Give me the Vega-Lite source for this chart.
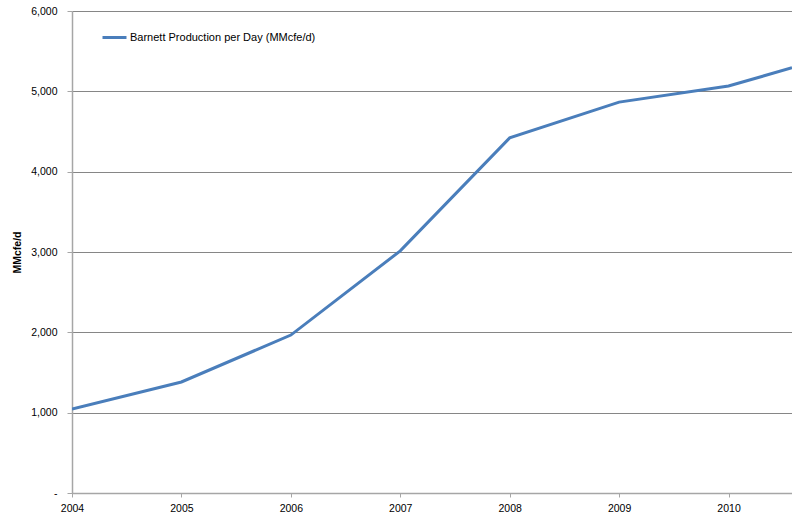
{
  "$schema": "https://vega.github.io/schema/vega-lite/v6.json",
  "autosize": "none",
  "width": 720,
  "height": 482,
  "padding": {"left": 72, "top": 11, "right": 0, "bottom": 23},
  "background": "white",
  "config": {
    "view": {"stroke": null},
    "font": "Liberation Sans"
  },
  "data": {
    "values": [
      {"year": 2004, "value": 1046, "series": "Barnett Production per Day (MMcfe/d)"},
      {"year": 2005, "value": 1382, "series": "Barnett Production per Day (MMcfe/d)"},
      {"year": 2006, "value": 1966, "series": "Barnett Production per Day (MMcfe/d)"},
      {"year": 2007, "value": 3014, "series": "Barnett Production per Day (MMcfe/d)"},
      {"year": 2008, "value": 4421, "series": "Barnett Production per Day (MMcfe/d)"},
      {"year": 2009, "value": 4866, "series": "Barnett Production per Day (MMcfe/d)"},
      {"year": 2010, "value": 5066, "series": "Barnett Production per Day (MMcfe/d)"},
      {"year": 2010.58, "value": 5293, "series": "Barnett Production per Day (MMcfe/d)"}
    ]
  },
  "mark": {"type": "line", "strokeWidth": 3, "clip": true},
  "encoding": {
    "x": {
      "field": "year",
      "type": "quantitative",
      "scale": {"domain": [2004, 2010.58], "nice": false, "zero": false},
      "axis": {
        "values": [2004, 2005, 2006, 2007, 2008, 2009, 2010],
        "format": "d",
        "title": null,
        "grid": false,
        "labelFlush": false,
        "labelOverlap": false,
        "domainColor": "#a6a6a6",
        "domainWidth": 1.5,
        "tickColor": "#a6a6a6",
        "tickSize": 4,
        "labelPadding": 6,
        "labelFontSize": 10.5,
        "labelColor": "#000000"
      }
    },
    "y": {
      "field": "value",
      "type": "quantitative",
      "scale": {"domain": [0, 6000], "nice": false},
      "axis": {
        "values": [0, 1000, 2000, 3000, 4000, 5000, 6000],
        "labelExpr": "datum.value == 0 ? '-' : format(datum.value, ',')",
        "title": "MMcfe/d",
        "titleFontSize": 10.5,
        "titleFontWeight": "bold",
        "titleColor": "#000000",
        "titlePadding": 8,
        "grid": true,
        "gridColor": "#868686",
        "gridWidth": 1,
        "domainColor": "#a6a6a6",
        "domainWidth": 1.5,
        "tickColor": "#a6a6a6",
        "tickSize": 5,
        "labelPadding": 10,
        "labelFontSize": 10.5,
        "labelColor": "#000000"
      }
    },
    "color": {
      "field": "series",
      "type": "nominal",
      "scale": {"range": ["#4a7ebb"]},
      "legend": {
        "orient": "none",
        "legendX": 29,
        "legendY": 13,
        "title": null,
        "symbolType": "stroke",
        "symbolSize": 576,
        "symbolStrokeWidth": 3,
        "labelFontSize": 11,
        "labelColor": "#000000",
        "labelOffset": 2,
        "labelLimit": 400
      }
    }
  }
}
